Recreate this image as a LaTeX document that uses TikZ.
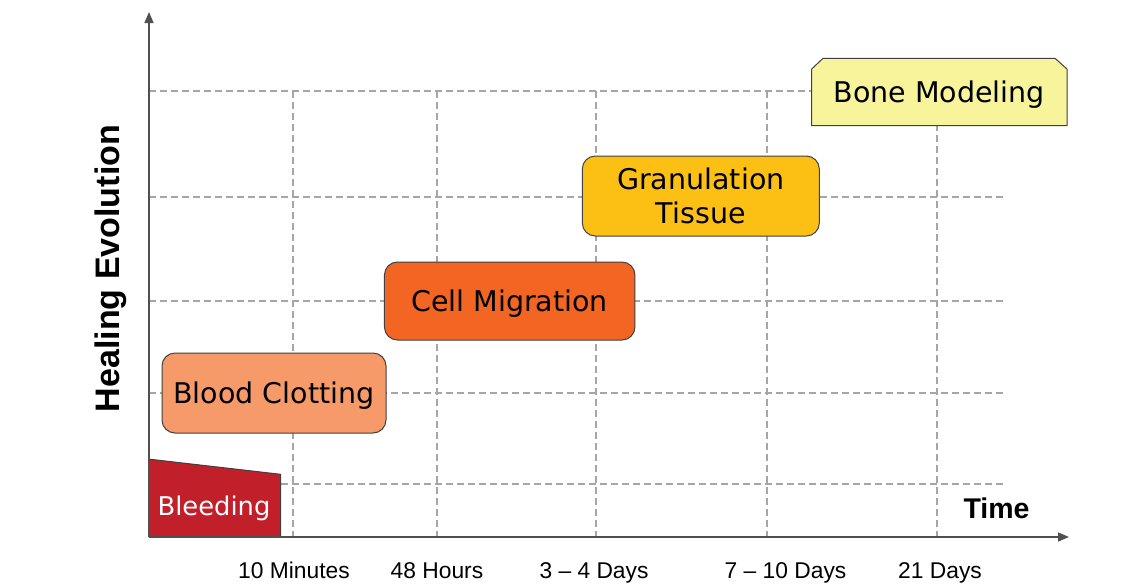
\documentclass[tikz,border=0pt]{standalone}
\usepackage{fontspec}
\setmainfont{DejaVu Sans}
\newfontfamily\axfont{Liberation Sans}
\usetikzlibrary{arrows.meta}
\definecolor{bleedc}{HTML}{C1202A}
\definecolor{clotc}{HTML}{F79A6A}
\definecolor{migc}{HTML}{F26522}
\definecolor{granc}{HTML}{FBC013}
\definecolor{bonec}{HTML}{F8F49C}
\definecolor{gridc}{HTML}{A6A6A6}
\definecolor{axc}{HTML}{505050}
\definecolor{bordc}{HTML}{404040}
\begin{document}
\begin{tikzpicture}[x=1pt,y=-1pt,
  gridline/.style={draw=gridc, line width=1.2pt, dash pattern=on 7pt off 4pt},
  axisline/.style={draw=axc, line width=1.5pt, -{Triangle[length=11pt,width=9pt]}},
  phase/.style={draw=bordc, line width=1pt, rounded corners=13pt, inner sep=0pt,
    font=\fontsize{28.5}{34}\selectfont, align=center, text depth=0pt},
  ticklab/.style={font=\axfont\fontsize{22.8}{26}\selectfont, anchor=base}
]
\useasboundingbox (0,0) rectangle (1145,584);
\fill[white] (0,0) rectangle (1145,584);
% grid
\foreach \y in {91,197,301,393,484} \draw[gridline] (149,\y) -- (1005,\y);
\foreach \x in {293,437,596,767,937} \draw[gridline] (\x,91) -- (\x,537);
% bleeding
\fill[bleedc] (148,459) -- (280.7,474.3) -- (280.7,537) -- (148,537) -- cycle;
\draw[bordc, line width=1pt] (148,459) -- (280.7,474.3) -- (280.7,537);
\node[text=white, font=\fontsize{25.8}{30}\selectfont, text depth=0pt] (bleed) at (214,506) {Bleeding};
% phases
\node[phase, fill=clotc, minimum width=224pt, minimum height=80pt] (clot) at (274,393) {Blood Clotting};
\node[phase, fill=migc, minimum width=250.5pt, minimum height=78pt] (mig) at (509.7,301) {Cell Migration};
\node[phase, fill=granc, minimum width=237pt, minimum height=80pt] (gran) at (700.8,196) {Granulation\\Tissue};
\filldraw[fill=bonec, draw=bordc, line width=1pt] (811.7,125.7) -- (811.7,69) -- (823,58.3) -- (1055,58.3) -- (1067,69) -- (1067,125.7) -- cycle;
\node[font=\fontsize{28.5}{34}\selectfont, text depth=0pt] (bone) at (939.3,92) {Bone Modeling};
% axes
\coordinate (O) at (149,537);
\coordinate (ytop) at (149,12);
\coordinate (xend) at (1069,537);
\draw[axisline] (O) -- (ytop);
\draw[axisline] (O) -- (xend);
% labels
\node[ticklab] (t1) at (294,578) {10 Minutes};
\node[ticklab] (t2) at (437,578) {48 Hours};
\node[ticklab] (t3) at (594,578) {3 – 4 Days};
\node[ticklab] (t4) at (785.5,578) {7 – 10 Days};
\node[ticklab] (t5) at (940,578) {21 Days};
\node[font=\axfont\bfseries\fontsize{28.5}{32}\selectfont, anchor=base] (time) at (996.5,518) {Time};
\node[rotate=90, font=\axfont\bfseries\fontsize{34}{38}\selectfont, anchor=base] (heal) at (119,268.5) {Healing Evolution};
\end{tikzpicture}
\end{document}
